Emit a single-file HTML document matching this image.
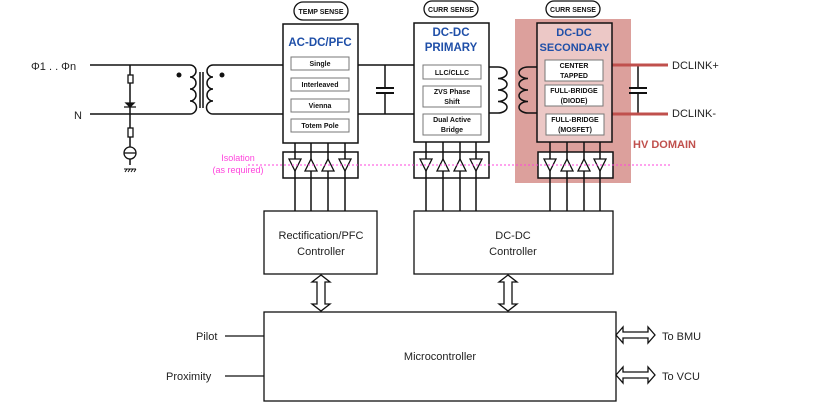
<!DOCTYPE html>
<html><head><meta charset="utf-8"><style>
html,body{margin:0;padding:0;background:#fff}
svg{display:block}
text{font-family:"Liberation Sans",sans-serif}
</style></head><body>
<svg width="815" height="411" viewBox="0 0 815 411" xmlns="http://www.w3.org/2000/svg">
<rect x="515" y="19" width="116" height="164" fill="#dca09c"/>
<text x="633" y="148" font-size="11" font-weight="bold" fill="#c0504d">HV DOMAIN</text>

<g stroke="#111" stroke-width="1.5" fill="none">
<line x1="90" y1="65" x2="190" y2="65"/>
<line x1="90" y1="114" x2="190" y2="114"/>
<line x1="130" y1="65" x2="130" y2="165"/>
<path d="M190 65 a6 6 0 0 1 0 12 a6 6 0 0 1 0 12 a6 6 0 0 1 0 12 a6 6 0 0 1 0 13"/>
<line x1="200" y1="72" x2="200" y2="108"/><line x1="203" y1="72" x2="203" y2="108"/>
<path d="M213 65 a6 6 0 0 0 0 12 a6 6 0 0 0 0 12 a6 6 0 0 0 0 12 a6 6 0 0 0 0 13"/>
<line x1="213" y1="65" x2="283" y2="65"/>
<line x1="213" y1="114" x2="283" y2="114"/>
<line x1="358" y1="65" x2="414" y2="65"/>
<line x1="358" y1="114" x2="414" y2="114"/>
<line x1="385" y1="65" x2="385" y2="88"/><line x1="385" y1="93" x2="385" y2="114"/>
<line x1="376" y1="88" x2="394" y2="88" stroke-width="2"/><line x1="376" y1="93" x2="394" y2="93" stroke-width="2"/>
<path d="M489 67 H498 a9 5.75 0 0 1 0 11.5 a9 5.75 0 0 1 0 11.5 a9 5.75 0 0 1 0 11.5 a9 5.75 0 0 1 0 11.5 H489"/>
<path d="M537 67 H528 a9 5.75 0 0 0 0 11.5 a9 5.75 0 0 0 0 11.5 a9 5.75 0 0 0 0 11.5 a9 5.75 0 0 0 0 11.5 H537"/>
<line x1="638" y1="65" x2="638" y2="88"/><line x1="638" y1="93" x2="638" y2="114"/>
<line x1="629" y1="88" x2="647" y2="88" stroke-width="2"/><line x1="629" y1="93" x2="647" y2="93" stroke-width="2"/>
</g>
<line x1="612" y1="65" x2="668" y2="65" stroke="#c0504d" stroke-width="3"/>
<line x1="612" y1="114" x2="668" y2="114" stroke="#c0504d" stroke-width="3"/>
<circle cx="179" cy="75" r="2.5" fill="#111"/><circle cx="222" cy="75" r="2.5" fill="#111"/>
<rect x="128" y="75" width="5" height="8" fill="#fff" stroke="#111" stroke-width="1.3"/>
<path d="M124 107 h12 M126 103 l4 4 l4 -4 z" stroke="#111" stroke-width="1.3" fill="#111"/>
<rect x="128" y="128" width="5" height="9" fill="#fff" stroke="#111" stroke-width="1.3"/>
<circle cx="130" cy="153" r="6" fill="#fff" stroke="#111" stroke-width="1.3"/>
<line x1="124" y1="153" x2="136" y2="153" stroke="#111" stroke-width="1.3"/>
<path d="M124 169 h12 M125 172 l2 -3 M128 172 l2 -3 M131 172 l2 -3 M134 172 l2 -3" stroke="#111" stroke-width="1"/>
<text x="31" y="70" font-size="11" fill="#222">Φ1 . . Φn</text>
<text x="74" y="119" font-size="11" fill="#222">N</text>

<g stroke="#111" stroke-width="1.3" fill="#fff">
<rect x="294" y="2" width="54" height="18" rx="9"/>
<rect x="424" y="1" width="54" height="16" rx="8"/>
<rect x="546" y="1" width="54" height="16" rx="8"/>
</g>
<g font-size="7" font-weight="bold" text-anchor="middle" fill="#111">
<text x="321" y="14">TEMP SENSE</text>
<text x="451" y="12">CURR SENSE</text>
<text x="573" y="12">CURR SENSE</text>
</g>

<rect x="283" y="24" width="75" height="119" fill="#fff" stroke="#111" stroke-width="1.5"/>
<rect x="414" y="23" width="75" height="119" fill="#fff" stroke="#111" stroke-width="1.5"/>
<rect x="537" y="23" width="75" height="119" fill="#ecc8c6" stroke="#111" stroke-width="1.5"/>
<g font-size="11.5" font-weight="bold" fill="#1f4fa8" text-anchor="middle">
<text x="320" y="46">AC-DC/PFC</text>
<text x="451" y="36">DC-DC</text><text x="451" y="51">PRIMARY</text>
</g>
<g font-size="11" font-weight="bold" fill="#1f4fa8" text-anchor="middle">
<text x="574" y="36">DC-DC</text><text x="574.5" y="51">SECONDARY</text>
</g>
<g fill="#fff" stroke="#777" stroke-width="1">
<rect x="291" y="57" width="58" height="13"/><rect x="291" y="78" width="58" height="13"/>
<rect x="291" y="99" width="58" height="13"/><rect x="291" y="119" width="58" height="13"/>
<rect x="423" y="65" width="58" height="14"/><rect x="423" y="86" width="58" height="21"/><rect x="423" y="114" width="58" height="21"/>
<rect x="545" y="60" width="58" height="21"/><rect x="545" y="85" width="58" height="21"/><rect x="546" y="114" width="58" height="21"/>
</g>
<g font-size="7" font-weight="bold" fill="#111" text-anchor="middle">
<text x="320" y="66">Single</text><text x="320" y="87">Interleaved</text>
<text x="320" y="108">Vienna</text><text x="320" y="128">Totem Pole</text>
<text x="452" y="75">LLC/CLLC</text>
<text x="452" y="94">ZVS Phase</text><text x="452" y="104">Shift</text>
<text x="452" y="122">Dual Active</text><text x="452" y="132">Bridge</text>
<text x="574" y="68">CENTER</text><text x="574" y="78">TAPPED</text>
<text x="574" y="93">FULL-BRIDGE</text><text x="574" y="103">(DIODE)</text>
<text x="575" y="122">FULL-BRIDGE</text><text x="575" y="132">(MOSFET)</text>
</g>
<g font-size="11" fill="#222">
<text x="672" y="69">DCLINK+</text><text x="672" y="117">DCLINK-</text>
</g>

<g stroke="#111" stroke-width="1.5" fill="#fff">
<rect x="283" y="152" width="75" height="26"/>
<rect x="414" y="152" width="75" height="26"/>
<rect x="538" y="152" width="75" height="26"/>
</g>
<g stroke="#111" stroke-width="1.5">
<path d="M295 143 V211 M311 143 V211 M328 143 V211 M345 143 V211"/>
<path d="M426 142 V211 M443 142 V211 M460 142 V211 M476 142 V211"/>
<path d="M550 142 V211 M567 142 V211 M584 142 V211 M600 142 V211"/>
</g>
<g stroke="#111" stroke-width="1.3" fill="#fff">
<path d="M289 159 h12 l-6 12 z M305 171 h12 l-6 -12 z M322 171 h12 l-6 -12 z M339 159 h12 l-6 12 z"/>
<path d="M420 159 h12 l-6 12 z M437 171 h12 l-6 -12 z M454 171 h12 l-6 -12 z M470 159 h12 l-6 12 z"/>
<path d="M544 159 h12 l-6 12 z M561 171 h12 l-6 -12 z M578 171 h12 l-6 -12 z M594 159 h12 l-6 12 z"/>
</g>
<line x1="248" y1="165" x2="670" y2="165" stroke="#ff44dd" stroke-width="1" stroke-dasharray="2,2"/>
<g font-size="9" fill="#ff44dd" text-anchor="middle">
<text x="238" y="161">Isolation</text><text x="238" y="173">(as required)</text>
</g>

<g stroke="#111" stroke-width="1.3" fill="#fff">
<rect x="264" y="211" width="113" height="63"/>
<rect x="414" y="211" width="199" height="63"/>
<rect x="264" y="312" width="352" height="89"/>
<path d="M321 275 l-9 7 h5 v22 h-5 l9 7 l9 -7 h-5 v-22 h5 z"/>
<path d="M508 275 l-9 7 h5 v22 h-5 l9 7 l9 -7 h-5 v-22 h5 z"/>
<path d="M616 335 l7 -8 v5 h25 v-5 l7 8 l-7 8 v-5 h-25 v5 z"/>
<path d="M616 375 l7 -8 v5 h25 v-5 l7 8 l-7 8 v-5 h-25 v5 z"/>
</g>
<g stroke="#111" stroke-width="1.3"><line x1="225" y1="336" x2="264" y2="336"/><line x1="225" y1="376" x2="264" y2="376"/></g>
<g font-size="11" fill="#222" text-anchor="middle">
<text x="321" y="239">Rectification/PFC</text><text x="321" y="255">Controller</text>
<text x="513" y="239">DC-DC</text><text x="513" y="255">Controller</text>
<text x="440" y="360">Microcontroller</text>
</g>
<g font-size="11" fill="#222">
<text x="196" y="340">Pilot</text><text x="166" y="380">Proximity</text>
<text x="662" y="340">To BMU</text><text x="662" y="380">To VCU</text>
</g>
</svg>
</body></html>
